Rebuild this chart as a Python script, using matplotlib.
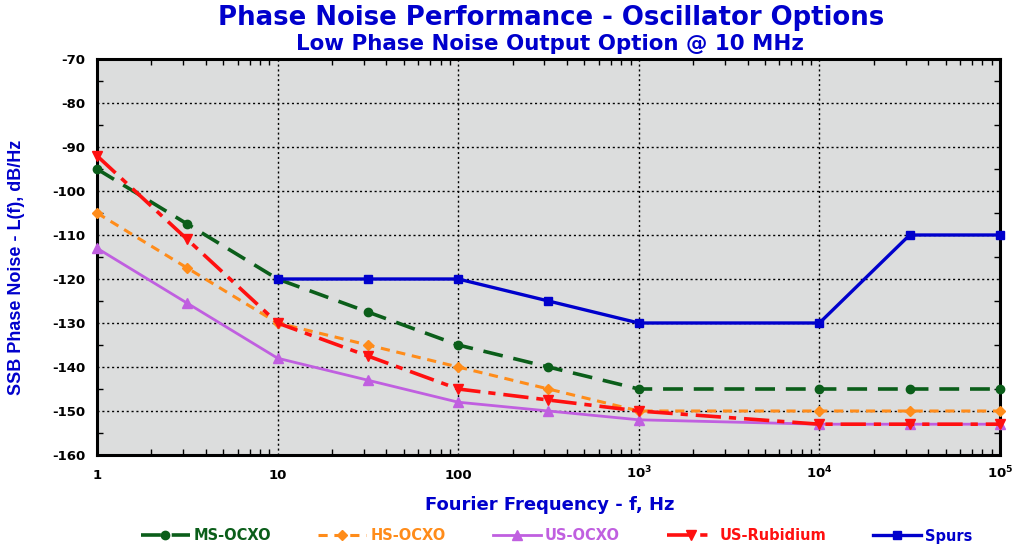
import matplotlib
matplotlib.use("Agg")
import matplotlib.pyplot as plt

plt.rcParams['font.family'] = ['DejaVu Sans']
plt.rcParams['font.weight'] = 'bold'
plt.rcParams['axes.unicode_minus'] = False
plt.rcParams['mathtext.fontset'] = 'custom'
plt.rcParams['mathtext.bf'] = 'DejaVu Sans:bold'
plt.rcParams['mathtext.rm'] = 'DejaVu Sans:bold'

freq = [1, 3.16, 10, 31.6, 100, 316, 1000, 10000, 31600, 100000]
ms_ocxo = [-95, -107.5, -120, -127.5, -135, -140, -145, -145, -145, -145]
hs_ocxo = [-105, -117.5, -130, -135, -140, -145, -150, -150, -150, -150]
us_ocxo = [-113, -125.5, -138, -143, -148, -150, -152, -153, -153, -153]
us_rb = [-92, -111, -130, -137.5, -145, -147.5, -150, -153, -153, -153]
spur_freq = [10, 31.6, 100, 316, 1000, 10000, 31600, 100000]
spurs = [-120, -120, -120, -125, -130, -130, -110, -110]

yticks = list(range(-160, -69, 10))
xticks = [1, 10, 100, 1000, 10000, 100000]
xticklabels = ['1', '10', '100', r'$\mathbf{10^3}$', r'$\mathbf{10^4}$', r'$\mathbf{10^5}$']

BLUE = '#0000CC'
fig = plt.figure(figsize=(10.16, 5.46), dpi=100)
ax = fig.add_axes([97/1016, 1-455/546, (1000-97)/1016, (455-59)/546])
ax.set_facecolor('#DCDDDD')

kw = dict(clip_on=False, zorder=3)
ax.plot(freq, ms_ocxo, color='#0B5E1A', lw=2.6, ls=(0, (5.5, 3)), marker='o', ms=6, label='MS-OCXO', **kw)
ax.plot(freq, hs_ocxo, color='#FF8C1A', lw=2.2, ls=(0, (3, 2.2)), marker='D', ms=5, label='HS-OCXO', **kw)
ax.plot(freq, us_ocxo, color='#C05FE0', lw=2.0, ls='-', marker='^', ms=7, label='US-OCXO', **kw)
ax.plot(freq, us_rb, color='#FF1010', lw=2.6, ls=(0, (7, 2.2, 2, 2.2)), marker='v', ms=7, label='US-Rubidium', **kw)
ax.plot(spur_freq, spurs, color=BLUE, lw=2.4, ls='-', marker='s', ms=6, label='Spurs', **kw)

ax.set_xscale('log')
ax.set_xlim(1, 1e5)
ax.set_ylim(-160, -70)
ax.set_yticks(yticks)
ax.set_yticks(range(-155, -70, 10), minor=True)
ax.set_xticks(xticks)
ax.set_xticklabels(xticklabels)
ax.tick_params(axis='both', which='both', direction='in', top=True, right=True, labelsize=9.5)
ax.tick_params(axis='x', which='major', pad=17, length=0)
ax.tick_params(axis='y', which='major', pad=8.5, length=0)
ax.tick_params(which='minor', length=4, width=1)
for lab in ax.get_xticklabels():
    lab.set_fontweight('bold')
    lab.set_verticalalignment('baseline')
for lab in ax.get_yticklabels():
    lab.set_fontweight('bold')
ax.grid(True, which='major', color='black', ls=(0, (1.5, 2)), lw=1)
for s in ax.spines.values():
    s.set_linewidth(2.2)

fig.text(551/1016, 1-18/546, 'Phase Noise Performance - Oscillator Options', ha='center', va='center',
         color=BLUE, fontsize=18.7, fontweight='bold')
fig.text(550/1016, 1-44/546, 'Low Phase Noise Output Option @ 10 MHz', ha='center', va='center',
         color=BLUE, fontsize=15.4, fontweight='bold')
fig.text(550/1016, 1-505/546, 'Fourier Frequency - f, Hz', ha='center', va='center',
         color=BLUE, fontsize=13, fontweight='bold')
fig.text(17/1016, 1-267/546, 'SSB Phase Noise - L(f), dB/Hz', rotation=90, ha='center', va='center',
         color=BLUE, fontsize=13, fontweight='bold', family=['Liberation Sans', 'DejaVu Sans'])

leg = fig.legend(loc='center', bbox_to_anchor=(557/1016, 10/546), ncol=5, frameon=False,
                 fontsize=10.5, handlelength=3.3, columnspacing=3.2, handletextpad=0.3)
for t, h in zip(leg.get_texts(), leg.legend_handles):
    t.set_color(h.get_color())
    t.set_fontweight('bold')

fig.savefig('out.png', dpi=100)
